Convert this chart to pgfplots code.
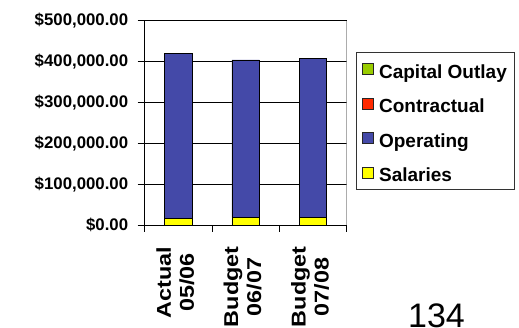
\documentclass[border=0pt]{standalone}
\usepackage{pgfplots}
\pgfplotsset{compat=1.18}
\usepackage{fontspec}
\setmainfont{Liberation Sans}
\newfontfamily\xlabfont[FakeStretch=1.17]{Liberation Sans}

\definecolor{capout}{RGB}{153,204,0}
\definecolor{contract}{RGB}{255,42,0}
\definecolor{operating}{RGB}{68,73,168}
\definecolor{salaries}{RGB}{255,255,0}

\pgfplotsset{
  sq legend/.style={legend image code/.code={%
    \draw[##1,draw=black!85,line width=0.8pt] (0pt,-5.5pt) rectangle (11pt,5.5pt);
    \path (14pt,0pt);}},
}

\begin{document}
\begin{tikzpicture}[x=1pt,y=1pt]
\useasboundingbox (0,0) rectangle (519,328);
\begin{axis}[
  at={(144.7pt,103pt)}, anchor=south west,
  scale only axis, width=202pt, height=204.3pt,
  ybar stacked, bar width=27.4pt,
  xmin=-0.5, xmax=2.5, ymin=0, ymax=500000,
  axis x line*=bottom, axis y line*=left,
  axis line style={black, line width=0.8pt},
  tick align=outside,
  xtick={0,1,2},
  xticklabels={Actual\\05/06, Budget\\06/07, Budget\\07/08},
  major x tick style={draw=none},
  minor xtick={-0.5,0.5,1.5,2.5},
  minor tick length=7pt,
  minor x tick style={black, line width=0.8pt},
  xticklabel shift=11pt,
  x tick label style={rotate=90, anchor=east, align=center, yshift=3pt,
    font=\xlabfont\fontsize{20}{23}\selectfont\bfseries},
  ytick={0,100000,200000,300000,400000,500000},
  yticklabels={{\$0.00},{\$100,000.00},{\$200,000.00},{\$300,000.00},{\$400,000.00},{\$500,000.00}},
  scaled y ticks=false,
  major tick length=7pt,
  y tick style={black, line width=0.8pt},
  y tick label style={xshift=-6pt, font=\fontsize{16.8}{18}\selectfont\bfseries},
  ymajorgrids, grid style={black, line width=0.8pt},
  reverse legend,
  legend cell align=left,
  legend style={at={(axis description cs:1.046,0.847)}, anchor=north west,
    draw=black!80, line width=0.8pt, inner sep=6pt,
    font=\fontsize{19}{22}\selectfont\bfseries,
    row sep=12.5pt,
    nodes={text height=18pt, text depth=0pt, inner sep=2pt}},
]
\addplot[fill=salaries, draw=black, line width=0.6pt, sq legend]
  coordinates {(0,16500) (1,19000) (2,19000)};
\addlegendentry{Salaries}
\addplot[fill=operating, draw=black, line width=0.6pt, sq legend]
  coordinates {(0,402500) (1,385000) (2,389500)};
\addlegendentry{Operating}
\addplot[fill=contract, draw=black, line width=0.6pt, sq legend]
  coordinates {(0,0) (1,0) (2,0)};
\addlegendentry{Contractual}
\addplot[fill=capout, draw=black, line width=0.6pt, sq legend]
  coordinates {(0,0) (1,0) (2,0)};
\addlegendentry{Capital Outlay}
% right border of the plot area
\draw[gray, line width=0.8pt] (rel axis cs:1,0) -- (rel axis cs:1,1);
\end{axis}
\node[anchor=base, font=\fontsize{34}{38}\selectfont] at (436.5,0.5) {134};
\end{tikzpicture}
\end{document}
